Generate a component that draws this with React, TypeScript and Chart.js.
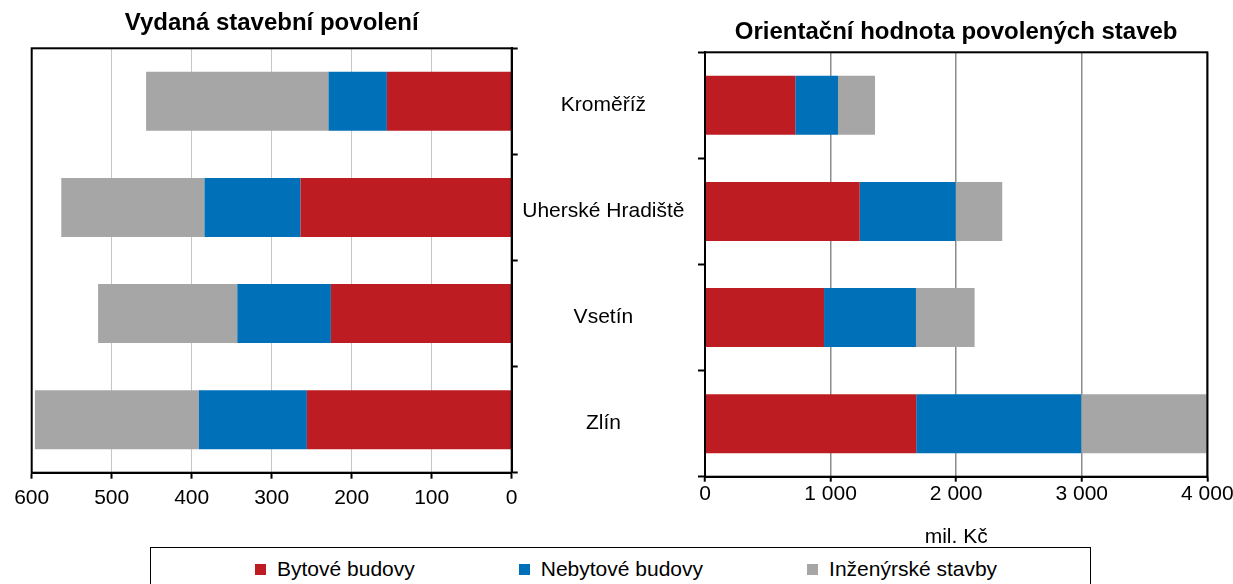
import React, { useEffect, useRef } from 'react';
import { Chart, registerables } from 'chart.js';

Chart.register(...registerables);

// ---------- data ----------
const categories = ['Kroměříž', 'Uherské Hradiště', 'Vsetín', 'Zlín'];
const seriesNames = ['Bytové budovy', 'Nebytové budovy', 'Inženýrské stavby'];
const seriesColors = ['#BE1C23', '#0070B8', '#A6A6A6'];

// Vydaná stavební povolení (count)
const permitsBytove = [156, 264, 226, 256];
const permitsNebytove = [73, 120, 117, 135];
const permitsInzenyrske = [228, 179, 174, 205];

// Orientační hodnota povolených staveb (mil. Kč)
const valueBytove = [719, 1232, 948, 1682];
const valueNebytove = [340, 764, 732, 1314];
const valueInzenyrske = [295, 371, 467, 998];

const leftTitle = 'Vydaná stavební povolení';
const rightTitle = 'Orientační hodnota povolených staveb';
const rightAxisTitle = 'mil. Kč';
const leftAxis = { min: 0, max: 600, step: 100 };
const rightAxis = { min: 0, max: 4000, step: 1000 };

// ---------- styling ----------
const FONT = "'Liberation Sans', Arial, sans-serif";
Chart.defaults.font.family = FONT;
Chart.defaults.color = '#000';

const framePlugin = {
  id: 'frame',
  afterDatasetsDraw(chart: any) {
    const { ctx, chartArea: a } = chart;
    ctx.save();
    ctx.strokeStyle = '#000';
    ctx.lineWidth = 2;
    ctx.strokeRect(a.left, a.top, a.right - a.left, a.bottom - a.top);
    ctx.restore();
  },
};

const fmtThousands = (v: number) =>
  String(v).replace(/\B(?=(\d{3})+(?!\d))/g, '\u00a0');

function makeDatasets(a: number[], b: number[], c: number[]) {
  return [a, b, c].map((data, i) => ({
    label: seriesNames[i],
    data,
    backgroundColor: seriesColors[i],
    borderWidth: 0,
    barPercentage: 0.556,
    categoryPercentage: 1,
  }));
}

const CANVAS_H = 560;

function LeftChart() {
  const ref = useRef<HTMLCanvasElement | null>(null);
  useEffect(() => {
    if (!ref.current) return;
    const chart = new Chart(ref.current, {
      type: 'bar',
      data: {
        labels: categories,
        datasets: makeDatasets(permitsBytove, permitsNebytove, permitsInzenyrske) as any,
      },
      plugins: [framePlugin as any],
      options: {
        indexAxis: 'y',
        animation: false,
        responsive: false,
        devicePixelRatio: 1,
        layout: { padding: { left: 31.7, right: 0, top: 0, bottom: 0 } },
        plugins: {
          legend: { display: false },
          tooltip: { enabled: false },
          title: {
            display: true,
            text: leftTitle,
            fullSize: false,
            font: { size: 24, weight: 'bold', family: FONT },
            color: '#000',
            padding: { top: 9.3, bottom: 10.2 },
          } as any,
        },
        scales: {
          x: {
            stacked: true,
            reverse: true,
            min: leftAxis.min,
            max: leftAxis.max,
            ticks: {
              stepSize: leftAxis.step,
              font: { size: 21, family: FONT },
              color: '#000',
              padding: 6.8,
              maxRotation: 0,
            },
            grid: {
              color: '#c6c6c6',
              lineWidth: 1,
              tickColor: '#000',
              tickWidth: 2,
              tickLength: 6,
            },
            border: { color: '#000', width: 2 },
            afterFit: (s: any) => {
              s.height = CANVAS_H - 472.7;
            },
          },
          y: {
            stacked: true,
            position: 'right',
            ticks: { display: false },
            grid: {
              offset: true,
              drawOnChartArea: false,
              drawTicks: true,
              tickLength: 6,
              tickColor: '#000',
              tickWidth: 2,
            },
            border: { color: '#000', width: 2 },
            afterFit: (s: any) => {
              s.width = 540 - 511.7;
            },
          },
        },
      },
    });
    return () => chart.destroy();
  }, []);
  return (
    <canvas
      ref={ref}
      width={540}
      height={CANVAS_H}
      style={{ position: 'absolute', left: 0, top: 0, width: 540, height: CANVAS_H }}
    />
  );
}

function RightChart() {
  const ref = useRef<HTMLCanvasElement | null>(null);
  useEffect(() => {
    if (!ref.current) return;
    const chart = new Chart(ref.current, {
      type: 'bar',
      data: {
        labels: categories,
        datasets: makeDatasets(valueBytove, valueNebytove, valueInzenyrske) as any,
      },
      plugins: [framePlugin as any],
      options: {
        indexAxis: 'y',
        animation: false,
        responsive: false,
        devicePixelRatio: 1,
        layout: { padding: { left: 0, right: 39.7, top: 0, bottom: 0 } },
        plugins: {
          legend: { display: false },
          tooltip: { enabled: false },
          title: {
            display: true,
            text: rightTitle,
            fullSize: false,
            font: { size: 24, weight: 'bold', family: FONT },
            color: '#000',
            padding: { top: 18.3, bottom: 5.2 },
          } as any,
        },
        scales: {
          x: {
            stacked: true,
            min: rightAxis.min,
            max: rightAxis.max,
            ticks: {
              stepSize: rightAxis.step,
              font: { size: 21, family: FONT },
              color: '#000',
              padding: 0,
              maxRotation: 0,
              callback: (v: any) => fmtThousands(Number(v)),
            },
            grid: {
              color: '#8c8c8c',
              lineWidth: 1.5,
              tickColor: '#000',
              tickWidth: 2,
              tickLength: 5,
            },
            border: { color: '#000', width: 2 },
            title: {
              display: true,
              text: rightAxisTitle,
              font: { size: 21, family: FONT },
              color: '#000',
              padding: { top: 0, bottom: 10.3 },
            },
            afterFit: (s: any) => {
              s.height = CANVAS_H - 476.7;
            },
          },
          y: {
            stacked: true,
            position: 'left',
            ticks: {
              font: { size: 21, family: FONT },
              color: '#000',
              crossAlign: 'center',
              padding: 13.5,
            },
            grid: {
              offset: true,
              drawOnChartArea: false,
              drawTicks: true,
              tickLength: 7,
              tickColor: '#000',
              tickWidth: 2,
            },
            border: { color: '#000', width: 2 },
            afterFit: (s: any) => {
              s.width = 705 - 512;
            },
          },
        },
      },
    });
    return () => chart.destroy();
  }, []);
  return (
    <canvas
      ref={ref}
      width={735}
      height={CANVAS_H}
      style={{ position: 'absolute', left: 512, top: 0, width: 735, height: CANVAS_H }}
    />
  );
}

function Legend() {
  return (
    <div
      style={{
        position: 'absolute',
        left: 150,
        top: 547,
        width: 941,
        height: 60,
        border: '1px solid #000',
        boxSizing: 'border-box',
        background: '#fff',
      }}
    >
      <div
        style={{
          position: 'absolute',
          left: 104,
          top: 6,
          display: 'flex',
          alignItems: 'center',
          gap: 104,
          fontFamily: FONT,
          fontSize: 21,
          lineHeight: '30px',
          color: '#000',
          whiteSpace: 'nowrap',
        }}
      >
        {seriesNames.map((name, i) => (
          <div key={name} style={{ display: 'flex', alignItems: 'center' }}>
            <span
              style={{
                display: 'inline-block',
                width: 11,
                height: 11,
                background: seriesColors[i],
                marginRight: 11,
              }}
            />
            <span>{name}</span>
          </div>
        ))}
      </div>
    </div>
  );
}

export default function App() {
  return (
    <div
      style={{
        position: 'absolute',
        left: 0,
        top: 0,
        width: 1233,
        height: 584,
        overflow: 'hidden',
        background: '#fff',
      }}
    >
      <LeftChart />
      <RightChart />
      <Legend />
    </div>
  );
}
